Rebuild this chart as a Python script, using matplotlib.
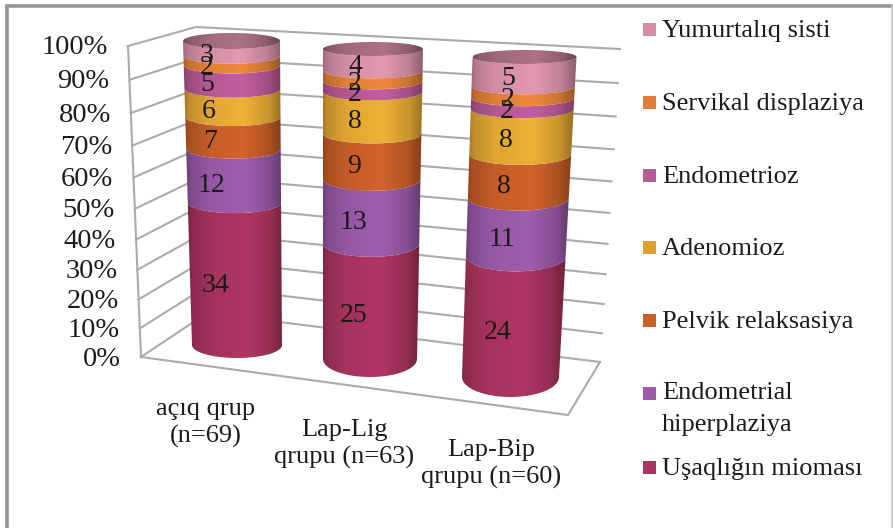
import numpy as np
import matplotlib
matplotlib.use("Agg")
import matplotlib.pyplot as plt
from matplotlib.patches import PathPatch, Rectangle
from matplotlib.path import Path
from matplotlib.colors import to_rgb

plt.rcParams['font.family'] = ['Liberation Serif', 'DejaVu Serif']

# ---------- data ----------
categories = ["açıq qrup\n(n=69)", "Lap-Lig\nqrupu (n=63)", "Lap-Bip\nqrupu (n=60)"]
series_names = ["Uşaqlığın mioması", "Endometrial\nhiperplaziya", "Pelvik relaksasiya",
                "Adenomioz", "Endometrioz", "Servikal displaziya", "Yumurtalıq sisti"]
uterine_myoma = [34, 25, 24]
endometrial_hyperplasia = [12, 13, 11]
pelvic_relaxation = [7, 9, 8]
adenomyosis = [6, 8, 8]
endometriosis = [5, 2, 2]
cervical_dysplasia = [2, 2, 2]
ovarian_cyst = [3, 4, 5]
tick_labels = ["0%", "10%", "20%", "30%", "40%", "50%", "60%", "70%", "80%", "90%", "100%"]
series_colors = ["#AB3560", "#9B5BAA", "#CC6029", "#E9AC35", "#BC5C98", "#E98539", "#DC94AC"]
top_color = "#A86E84"
legend_colors = ["#AB3560", "#9B5BAA", "#CC6029", "#E0A030", "#B85C98", "#E07E35", "#D68CA6"]

series = [uterine_myoma, endometrial_hyperplasia, pelvic_relaxation, adenomyosis,
          endometriosis, cervical_dysplasia, ovarian_cyst]

# ---------- layout (pixel frame of the pseudo-3D scene) ----------
W, H = 893, 528
fig = plt.figure(figsize=(W / 100, H / 100), dpi=100)
ax = fig.add_axes([0, 0, 1, 1])
ax.set_axis_off()

PERSP = 1.1
def proj(t):
    """Perspective scale: share of 100% -> share of screen height."""
    t = np.asarray(t, float)
    return t / (t + (1 - t) * PERSP)

def lerp(a, b, s):
    return a + (b - a) * s

FL0, FL1 = (141, 357), (128, 46)    # front-left edge of the side wall
BL0, BL1 = (207, 313), (196, 27)    # back-left corner
BR0, BR1 = (600, 362), (620, 49)    # back-right corner
FR0 = (568, 415)                    # front-right floor corner
GRID = "#ABABAB"

def wall_pt(p0, p1, s):
    return lerp(p0[0], p1[0], s), lerp(p0[1], p1[1], s)

for i, lab in enumerate(tick_labels):
    s = proj(i / (len(tick_labels) - 1))
    a, b, c = wall_pt(FL0, FL1, s), wall_pt(BL0, BL1, s), wall_pt(BR0, BR1, s)
    ax.plot([a[0], b[0], c[0]], [a[1], b[1], c[1]], color=GRID, lw=1.5, zorder=1)
    ax.text(a[0] - 20, a[1] + 2, lab, ha="right", va="center", fontsize=20.5, color="#1c1c1c")
ax.plot([FL0[0], FL1[0]], [FL0[1], FL1[1]], color=GRID, lw=1.5, zorder=1)
ax.plot([FL0[0], FR0[0], BR0[0]], [FL0[1], FR0[1], BR0[1]], color=GRID, lw=1.5, zorder=1)

# cylinder frames: bottom -> top of centre x, half width, edge y, ellipse half height
bars = [dict(xc=(237, 231.5), hw=(45, 48.5), ey=(345, 41), hh=(13, 8), lx=(218, 206)),
        dict(xc=(370, 373), hw=(47, 50), ey=(359, 49), hh=(18, 7), lx=(353, 355)),
        dict(xc=(510.5, 524.5), hw=(48.5, 52), ey=(377, 57), hh=(20, 7), lx=(495, 509))]
cat_xy = [(206, 423), (344, 444), (491, 464)]

def frame(b, s):
    return (lerp(*b["xc"], s), lerp(*b["hw"], s), lerp(*b["ey"], s), lerp(*b["hh"], s))

def arc(b, s, reverse=False):
    xc, hw, ey, hh = frame(b, s)
    th = np.linspace(np.pi, 0, 60)          # lower half, left -> right
    pts = np.column_stack([xc + hw * np.cos(th), ey + hh * np.sin(th)])
    return pts[::-1] if reverse else pts

u = np.linspace(0, 1, 256)
shade = np.interp(u, [0, .06, .25, .6, .85, 1], [.66, .82, .96, 1.03, .86, .62])

def gradient_fill(color, path, x0, x1, y0, y1, z):
    rgb = np.array(to_rgb(color))
    img = np.clip(shade[None, :, None] * rgb[None, None, :], 0, 1)
    im = ax.imshow(img, extent=(x0, x1, y1, y0), aspect="auto", zorder=z, interpolation="bilinear")
    patch = PathPatch(path, transform=ax.transData, facecolor="none", edgecolor="none")
    ax.add_patch(patch)
    im.set_clip_path(patch)

for j, b in enumerate(bars):
    vals = np.array([sr[j] for sr in series], float)
    cum = np.concatenate([[0], np.cumsum(vals)]) / vals.sum()
    for k, col in enumerate(series_colors):
        s0, s1 = proj(cum[k]), proj(cum[k + 1])
        poly = np.vstack([arc(b, s0), arc(b, s1, reverse=True)])
        poly = np.vstack([poly, poly[0]])
        sm = (s0 + s1) / 2
        xc, hw, _, _ = frame(b, sm)
        pad = abs(b["xc"][1] - b["xc"][0]) * (s1 - s0) / 2 + 2
        gradient_fill(col, Path(poly, closed=True), xc - hw - pad, xc + hw + pad,
                      poly[:, 1].min(), poly[:, 1].max(), 3 + j)
        # value label
        lm = proj((cum[k] + cum[k + 1]) / 2)
        _, _, ey, hh = frame(b, lm)
        ax.text(lerp(*b["lx"], lm), ey + 0.8 * hh + 1, f"{int(vals[k])}", ha="center", va="center",
                fontsize=20, color="#1a1a1a", zorder=10)
    # top cap
    xc, hw, ey, hh = frame(b, 1.0)
    th = np.linspace(0, 2 * np.pi, 120)
    cap = np.column_stack([xc + hw * np.cos(th), ey + hh * np.sin(th)])
    gradient_fill(top_color, Path(cap, closed=True), xc - hw, xc + hw, ey - hh, ey + hh, 3.5 + j)

for (x, y), lab in zip(cat_xy, categories):
    ax.text(x, y, lab, ha="center", va="center", fontsize=19, linespacing=1.32, color="#1c1c1c")

# ---------- legend ----------
legend_y = [467, 393, 320, 247, 175, 102, 29]
for name, col, y in zip(series_names, legend_colors, legend_y):
    ax.add_patch(Rectangle((643, y - 6.5), 13, 13, facecolor=col, edgecolor="none", zorder=5))
    two = "\n" in name
    ax.text(662, y + (16 if two else 2), name, ha="left", va="center", fontsize=19,
            linespacing=1.6, color="#1c1c1c")

# ---------- outer frame ----------
ax.plot([6.5, 6.5], [528, 5.5], color="#969696", lw=2.6, solid_capstyle="butt", zorder=20)
ax.plot([5, 893], [5.5, 5.5], color="#969696", lw=2.6, solid_capstyle="butt", zorder=20)
ax.plot([892, 892], [5, 528], color="#C4C4C4", lw=1.2, zorder=20)

ax.set_xlim(0, W)
ax.set_ylim(H, 0)
fig.savefig("out.png", dpi=100, facecolor="white")
